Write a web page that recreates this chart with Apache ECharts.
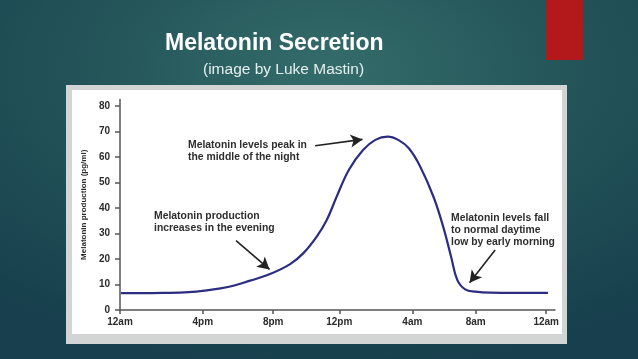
<!DOCTYPE html>
<html>
<head>
<meta charset="utf-8">
<script src="https://cdn.jsdelivr.net/npm/echarts@6/dist/echarts.min.js"></script>
<style>
html,body{margin:0;padding:0;width:638px;height:359px;overflow:hidden;}
body{background:radial-gradient(ellipse 520px 300px at 330px 70px,#346c6b 0%,#245559 45%,#173f4d 100%);}
#c{width:638px;height:359px;}
</style>
</head>
<body>
<div id="c"></div>
<script>
// x positions in hours from the left end of the axis (tick spacing as drawn in the source)
const tickHours = [0, 4.7, 8.7, 12.45, 16.6, 20.2, 24.2];
const tickLabels = ['12am', '4pm', '8pm', '12pm', '4am', '8am', '12am'];
const yTicks = [0, 10, 20, 30, 40, 50, 60, 70, 80];
// curve samples: hour, pg/ml
const curveHours = [0.05, 1.2, 2.45, 3.9, 4.8, 6.2, 7.39, 8.52, 9.66, 10.4, 11.17, 11.74, 12.3, 13.0, 13.8, 14.5, 15.2, 15.8, 16.4, 17.05, 17.8, 18.35, 18.8, 19.15, 19.6, 20.2, 21.0, 22.5, 24.3];
const curveValues = [6.6, 6.6, 6.7, 7.0, 7.6, 9.1, 11.5, 14.1, 18.0, 22.2, 28.8, 35.3, 44.4, 55.0, 62.7, 66.7, 68.0, 66.7, 63.4, 56.2, 44.4, 32.7, 20.9, 11.8, 8.1, 7.2, 6.8, 6.7, 6.7];
// annotation arrows: [fromHour, fromValue, toHour, toValue]
const arrows = [
  [11.08, 64.4, 13.77, 66.9],
  [6.59, 27.2, 8.49, 15.9],
  [21.3, 23.5, 19.85, 10.7]
];
const notes = [
  {lines: ['Melatonin levels peak in', 'the middle of the night'], x: 188, y: 146},
  {lines: ['Melatonin production', 'increases in the evening'], x: 154, y: 217},
  {lines: ['Melatonin levels fall', 'to normal daytime', 'low by early morning'], x: 451, y: 219}
];

const chart = echarts.init(document.getElementById('c'), null, {renderer: 'canvas'});
const dark = '#2b2b2b';
const graphics = [
  {type: 'rect', shape: {x: 546, y: 0, width: 37, height: 60}, style: {fill: '#b3191b'}, z: -10},
  {type: 'rect', shape: {x: 66, y: 85, width: 501, height: 259}, style: {fill: '#d3d4d4'}, z: -10},
  {type: 'rect', shape: {x: 72, y: 90, width: 490, height: 244}, style: {fill: '#ffffff'}, z: -9}
];
notes.forEach(n => {
  graphics.push({
    type: 'text', x: n.x, y: n.y - 6.5,
    style: {text: n.lines.join('\n'), fill: '#2e2e2e', font: 'bold 10.4px "Liberation Sans", Arial, sans-serif', lineHeight: 11.8, verticalAlign: 'top'},
    z: 10
  });
});

chart.setOption({
  animation: false,
  title: [
    {text: 'Melatonin Secretion', left: 160, top: 27, textStyle: {color: '#ffffff', fontSize: 23, fontWeight: 'bold', fontFamily: '"Liberation Sans", Arial, sans-serif'}},
    {text: '(image by Luke Mastin)', left: 198, top: 57, textStyle: {color: '#e6eeee', fontSize: 15.5, fontWeight: 'normal', fontFamily: '"Liberation Sans", Arial, sans-serif'}}
  ],
  graphic: graphics,
  grid: {left: 120, right: 83, top: 99.6, bottom: 49, containLabel: false},
  xAxis: {
    type: 'value', min: 0, max: 24.7,
    splitLine: {show: false},
    axisLine: {lineStyle: {color: '#555', width: 1.5}},
    axisTick: {show: true, customValues: tickHours, length: 4, lineStyle: {color: '#555', width: 1.5}},
    axisLabel: {customValues: tickHours, color: dark, fontSize: 10, fontWeight: 'bold', fontFamily: '"Liberation Sans", Arial, sans-serif', margin: 7,
      formatter: v => { const i = tickHours.findIndex(t => Math.abs(t - v) < 1e-6); return i >= 0 ? tickLabels[i] : ''; }}
  },
  yAxis: {
    type: 'value', min: 0, max: 82.5,
    name: 'Melatonin production (pg/ml)', nameLocation: 'middle', nameRotate: 90, nameGap: 30,
    nameTextStyle: {color: dark, fontSize: 8, fontWeight: 'bold', fontFamily: '"Liberation Sans", Arial, sans-serif'},
    splitLine: {show: false},
    axisLine: {show: true, lineStyle: {color: '#555', width: 1.5}},
    axisTick: {show: true, customValues: yTicks, length: 5, lineStyle: {color: '#555', width: 1.5}},
    axisLabel: {customValues: yTicks, color: dark, fontSize: 10, fontWeight: 'bold', fontFamily: '"Liberation Sans", Arial, sans-serif', margin: 10}
  },
  series: [{
    type: 'line',
    data: curveHours.map((h, i) => [h, curveValues[i]]),
    smooth: 0.4,
    showSymbol: false,
    lineStyle: {color: '#2c2d80', width: 2.2},
    markLine: {
      silent: true,
      symbol: ['none', 'arrow'],
      symbolSize: [10, 12],
      label: {show: false},
      lineStyle: {color: '#222', width: 1.6, type: 'solid'},
      data: arrows.map(a => [{coord: [a[0], a[1]]}, {coord: [a[2], a[3]]}])
    }
  }]
});
</script>
</body>
</html>
